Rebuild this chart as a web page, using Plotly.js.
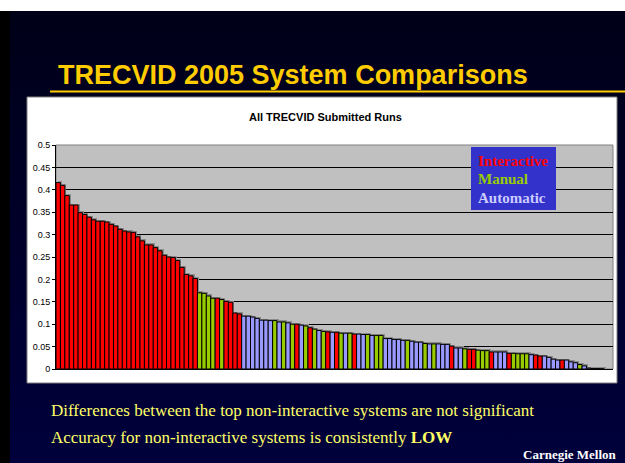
<!DOCTYPE html>
<html>
<head>
<meta charset="utf-8">
<script src="https://cdn.plot.ly/plotly-3.0.1.min.js"></script>
<style>
  html, body { margin: 0; padding: 0; background: #ffffff; }
  #frame { position: absolute; left: 0; top: 11px; width: 625px; height: 452px; background: #000000; }
  #slide { position: absolute; left: 10px; top: 11px; width: 615px; height: 452px;
           background: linear-gradient(#000018, #00003c); }
  #chart { position: absolute; left: 0; top: 0; width: 625px; height: 463px; }
</style>
</head>
<body>
<div id="frame"></div>
<div id="slide"></div>
<div id="chart"></div>
<script>
// Mean average precision of every submitted search run, sorted high to low
const runScores = [
  0.416, 0.410, 0.387, 0.366, 0.366, 0.349, 0.345, 0.339, 0.333, 0.330,
  0.330, 0.328, 0.323, 0.319, 0.312, 0.308, 0.306, 0.305, 0.295, 0.286,
  0.277, 0.277, 0.271, 0.264, 0.254, 0.250, 0.249, 0.242, 0.227, 0.211,
  0.208, 0.202,
  0.170, 0.169, 0.163, 0.158, 0.158, 0.155, 0.151, 0.149, 0.125, 0.123,
  0.118, 0.118, 0.116, 0.113, 0.109, 0.109, 0.108, 0.108,
  0.105, 0.105, 0.103, 0.100, 0.100, 0.098, 0.096, 0.092, 0.089, 0.086,
  0.084, 0.083, 0.082, 0.082, 0.080, 0.080, 0.080, 0.078, 0.078,
  0.077, 0.077, 0.075, 0.075, 0.075, 0.068, 0.068, 0.066, 0.066, 0.064,
  0.064, 0.062, 0.060, 0.060, 0.057, 0.056, 0.056, 0.056, 0.055, 0.055,
  0.051, 0.047, 0.047, 0.045, 0.044, 0.044, 0.042, 0.041, 0.041, 0.038,
  0.038, 0.038, 0.038, 0.035, 0.035, 0.034, 0.034, 0.034,
  0.032, 0.031, 0.029, 0.029, 0.026, 0.022, 0.020, 0.020, 0.020, 0.016,
  0.014, 0.010, 0.007, 0.002, 0.001, 0.001, 0.0005
];

// Run type: I = interactive, M = manual, A = automatic
const runTypes = [
  'I','I','I','I','I','I','I','I','I','I',
  'I','I','I','I','I','I','I','I','I','I',
  'I','I','I','I','I','I','I','I','I','I',
  'I','I',
  'M','M','M','M','I','M','I','I','I','I',
  'A','A','A','A','A','A','A','M',
  'A','M','A','M','I','A','M','I','M','A',
  'M','I','A','I','M','A','M','I','A',
  'A','M','A','M','M','A','A','A','A','A',
  'M','A','A','A','M','A','M','A','A','A',
  'I','A','A','M','I','I','M','M','M','I',
  'A','A','A','I','M','M','M','M',
  'A','I','I','A','A','A','A','I','A','A',
  'A','M','A','A','A','A','A'
];

const typeNames = { I: 'Interactive', M: 'Manual', A: 'Automatic' };
const typeColors = { I: '#FF0000', M: '#99CC00', A: '#9999FF' };
const legendTextColors = { I: '#FF0000', M: '#99CC00', A: '#CCCCFF' };

const slotCount = 126;               // category slots on the x axis
const ranks = runScores.map((_, i) => i + 1);

const W = 625, H = 463;
const M = { l: 56, r: 12, t: 145, b: 94 };
const plotW = W - M.l - M.r, plotH = H - M.t - M.b;
const px = p => (p - M.l) / plotW;           // pixel -> paper x
const py = p => (H - M.b - p) / plotH;       // pixel -> paper y

const ARIAL = 'Liberation Sans, Arial, sans-serif';
const TIMES = 'Liberation Serif, Times New Roman, serif';

// drop shadow: same bars, nudged right and up by about 1.5 px
const shadowDx = 1.5 / (plotW / slotCount);
const shadowDy = 1.5 * 0.5 / plotH;

const shadow = {
  type: 'bar',
  x: ranks,
  y: runScores,
  base: shadowDy,
  width: 1,
  offset: -0.5 + shadowDx,
  marker: { color: '#8C8C8C', line: { width: 0 } },
  hoverinfo: 'skip',
  showlegend: false
};

const bars = {
  type: 'bar',
  x: ranks,
  y: runScores,
  width: 1,
  marker: {
    color: runTypes.map(t => typeColors[t]),
    line: { color: '#000000', width: 1 }
  },
  hoverinfo: 'y',
  showlegend: false
};

const legendOrder = ['I', 'M', 'A'];
const legendY = [161, 179, 198];

const annotations = [
  { text: 'TRECVID 2005 System Comparisons', x: px(56), y: py(75), xanchor: 'left', yanchor: 'middle',
    font: { family: ARIAL, size: 27, color: '#FFCC00', weight: 'bold' } },
  { text: 'All TRECVID Submitted Runs', x: px(325), y: py(117), xanchor: 'center', yanchor: 'middle',
    font: { family: ARIAL, size: 11, color: '#000000', weight: 'bold' } },
  { text: 'Differences between the top non-interactive systems are not significant',
    x: px(49), y: py(410), xanchor: 'left', yanchor: 'middle',
    font: { family: TIMES, size: 17, color: '#FFFF66' } },
  { text: 'Accuracy for non-interactive systems is consistently <b>LOW</b>',
    x: px(49), y: py(437), xanchor: 'left', yanchor: 'middle',
    font: { family: TIMES, size: 17, color: '#FFFF66' } },
  { text: 'Carnegie Mellon', x: px(618), y: py(454), xanchor: 'right', yanchor: 'middle',
    borderpad: 0,
    font: { family: TIMES, size: 13, color: '#FFFFFF', weight: 'bold' } }
].concat(legendOrder.map((k, i) => ({
  text: typeNames[k], x: px(476), y: py(legendY[i]), xanchor: 'left', yanchor: 'middle',
  font: { family: TIMES, size: 15, color: legendTextColors[k], weight: 'bold' }
})));

annotations.forEach(a => { a.xref = 'paper'; a.yref = 'paper'; a.showarrow = false; });

const shapes = [
  // white chart panel
  { type: 'rect', layer: 'below', xref: 'paper', yref: 'paper',
    x0: px(27), x1: px(617), y0: py(383), y1: py(97),
    fillcolor: '#FFFFFF', line: { color: '#808080', width: 1 } },
  // grey plot area
  { type: 'rect', layer: 'below', xref: 'paper', yref: 'paper',
    x0: 0, x1: 1, y0: 0, y1: 1,
    fillcolor: '#C0C0C0', line: { color: '#808080', width: 1 } },
  // title underline
  { type: 'line', xref: 'paper', yref: 'paper',
    x0: px(50), x1: px(625), y0: py(91.5), y1: py(91.5),
    line: { color: '#FFCC00', width: 2 } },
  // legend panel
  { type: 'rect', xref: 'paper', yref: 'paper',
    x0: px(471), x1: px(556), y0: py(210), y1: py(147),
    fillcolor: '#3333CC', line: { width: 0 } }
];

const layout = {
  width: W, height: H,
  margin: M,
  paper_bgcolor: 'rgba(0,0,0,0)',
  plot_bgcolor: 'rgba(0,0,0,0)',
  barmode: 'overlay',
  bargap: 0,
  showlegend: false,
  xaxis: {
    range: [0.5, slotCount + 0.5],
    showticklabels: false, ticks: '', showgrid: false, zeroline: false,
    showline: true, linecolor: '#000000', linewidth: 1, fixedrange: true
  },
  yaxis: {
    range: [0, 0.5], dtick: 0.05, tick0: 0,
    showgrid: true, gridcolor: '#000000', gridwidth: 1,
    zeroline: false, showline: true, linecolor: '#000000', linewidth: 1,
    ticks: 'outside', ticklen: 3, tickcolor: '#000000',
    tickfont: { family: ARIAL, size: 9, color: '#000000' },
    fixedrange: true
  },
  annotations: annotations,
  shapes: shapes
};

Plotly.newPlot('chart', [shadow, bars], layout, { staticPlot: true });
</script>
</body>
</html>
